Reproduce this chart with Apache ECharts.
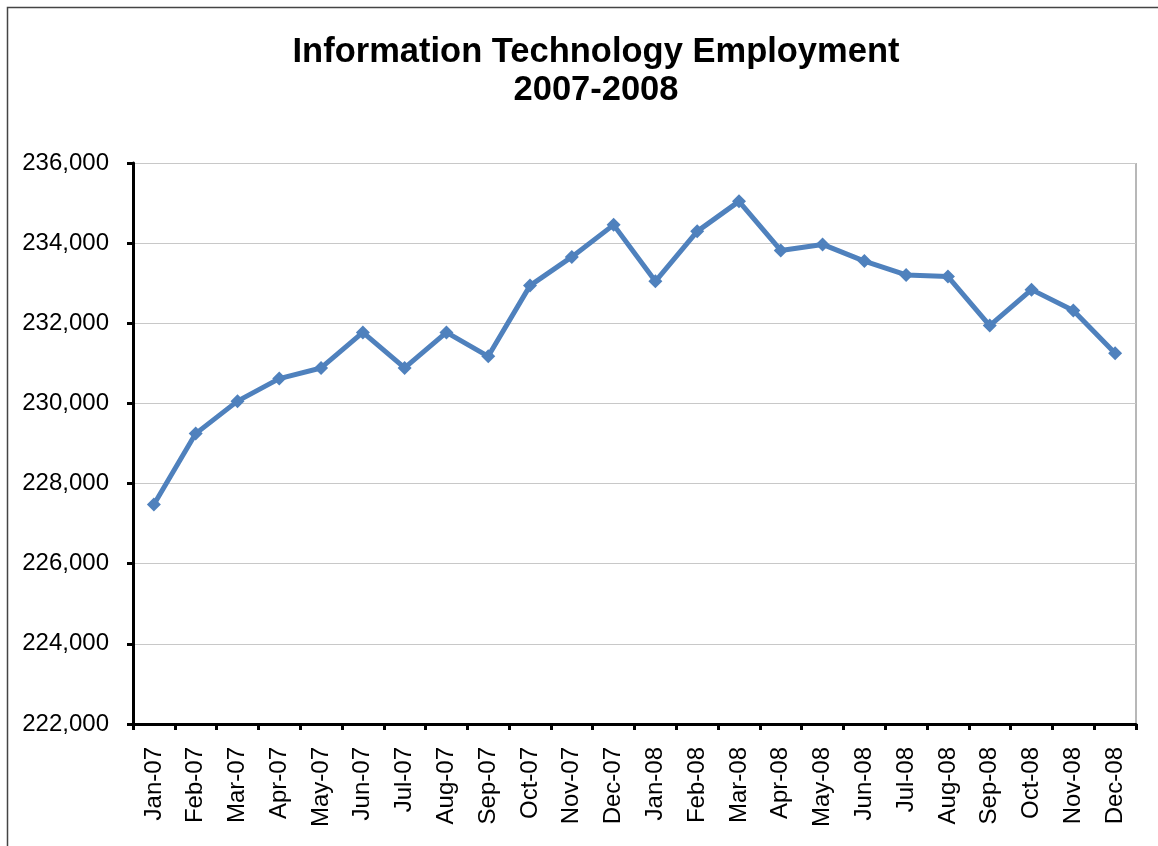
<!DOCTYPE html>
<html><head><meta charset="utf-8">
<script src="https://cdn.jsdelivr.net/npm/echarts@6/dist/echarts.min.js"></script>
<style>html,body{margin:0;padding:0;background:#fff}#c{width:1158px;height:846px}</style>
</head><body><div id="c"></div>
<script>
const categories = ["Jan-07","Feb-07","Mar-07","Apr-07","May-07","Jun-07","Jul-07","Aug-07","Sep-07","Oct-07","Nov-07","Dec-07",
  "Jan-08","Feb-08","Mar-08","Apr-08","May-08","Jun-08","Jul-08","Aug-08","Sep-08","Oct-08","Nov-08","Dec-08"];
const employment = [227476,229247,230057,230620,230885,231773,230885,231773,231175,232940,233656,234456,
  233047,234294,235043,233818,233968,233553,233207,233165,231943,232840,232317,231254];
const titleText = "Information Technology Employment\n2007-2008";
const yMin = 222000, yMax = 236000, yStep = 2000;

const chart = echarts.init(document.getElementById('c'));
chart.setOption({
  animation: false,
  backgroundColor: '#fff',
  title: {
    text: titleText, left: 591, top: 28, textAlign: 'center',
    textStyle: { fontFamily: 'Liberation Sans, Arial', fontWeight: 'bold', fontSize: 34.5, lineHeight: 38, color: '#000' }
  },
  graphic: [{
    type: 'rect', shape: { x: 7.5, y: 7.5, width: 1300, height: 1000 },
    style: { fill: 'none', stroke: '#444', lineWidth: 1.5 }, silent: true
  }, {
    type: 'line', shape: { x1: 1136, y1: 163, x2: 1136, y2: 724 },
    style: { stroke: '#a0a0a0', lineWidth: 1.5 }, silent: true
  }],
  grid: { left: 133, right: 22, top: 163, bottom: 122 },
  xAxis: {
    type: 'category', data: categories, boundaryGap: true,
    axisLine: { lineStyle: { color: '#000', width: 3 } },
    axisTick: { show: true, length: 6, lineStyle: { color: '#000', width: 3 } },
    axisLabel: { rotate: 90, margin: 23, fontFamily: 'Liberation Sans, Arial', fontSize: 24, color: '#000', interval: 0 },
    splitLine: { show: false }
  },
  yAxis: {
    type: 'value', min: yMin, max: yMax, interval: yStep,
    axisLine: { show: true, lineStyle: { color: '#000', width: 3 } },
    axisTick: { show: true, length: 6, lineStyle: { color: '#000', width: 3 } },
    axisLabel: { margin: 24, fontFamily: 'Liberation Sans, Arial', fontSize: 24, color: '#000',
      formatter: v => v.toLocaleString('en-US') },
    splitLine: { show: true, lineStyle: { color: '#c8c8c8', width: 1.2 } }
  },
  series: [{
    type: 'line', data: employment,
    lineStyle: { color: '#4F81BD', width: 5 },
    itemStyle: { color: '#4F81BD' },
    symbol: 'diamond', symbolSize: 14, showSymbol: true
  }]
});
</script></body></html>
